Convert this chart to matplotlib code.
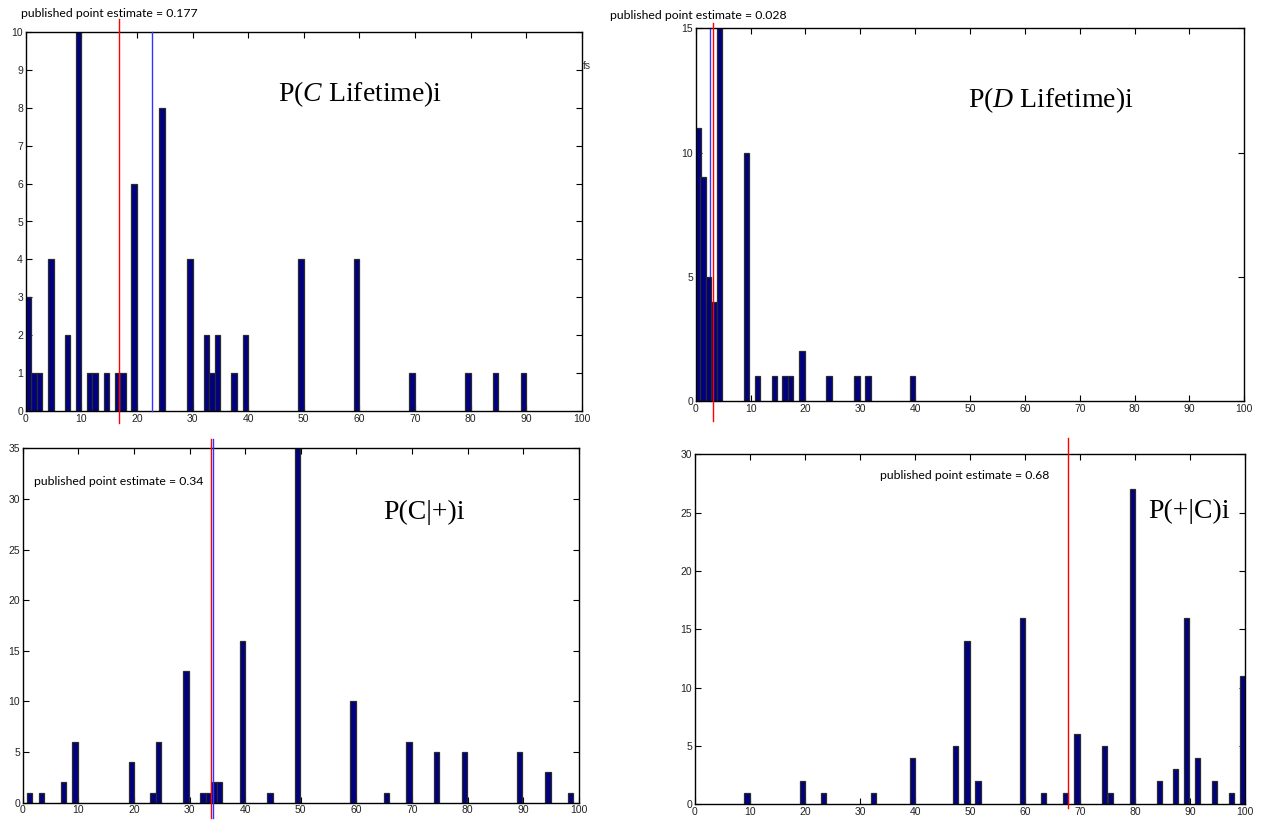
import numpy as np
import matplotlib.pyplot as plt

plt.rcParams['mathtext.fontset'] = 'custom'
plt.rcParams['mathtext.it'] = 'Liberation Serif:italic'
plt.rcParams['mathtext.rm'] = 'Liberation Serif'
plt.rcParams['font.family'] = ['Liberation Sans', 'DejaVu Sans']

# bin centres (percent) and counts
c_life_x = [0.5, 1.5, 2.5, 4.5, 7.5, 9.5, 11.5, 12.5, 14.5, 16.5, 17.5, 19.5, 24.5,
            29.5, 32.5, 33.5, 34.5, 37.5, 39.5, 49.5, 59.5, 69.5, 79.5, 84.5, 89.5]
c_life_n = [3, 1, 1, 4, 2, 10, 1, 1, 1, 1, 1, 6, 8, 4, 2, 1, 2, 1, 2, 4, 4, 1, 1, 1, 1]

d_life_x = [0.4, 1.3, 2.3, 3.3, 4.3, 9.3, 11.3, 14.35, 16.3, 17.3, 19.4, 24.3, 29.4, 31.4, 39.5]
d_life_n = [11, 9, 5, 4, 15, 10, 1, 1, 1, 1, 2, 1, 1, 1, 1]

c_pos_x = [1.25, 3.35, 7.35, 9.4, 19.55, 23.4, 24.4, 29.4, 32.4, 33.4, 34.4, 35.4, 39.5,
           44.45, 49.45, 59.45, 65.4, 69.45, 74.4, 79.45, 89.35, 94.45, 98.5]
c_pos_n = [1, 1, 2, 6, 4, 1, 6, 13, 1, 1, 2, 2, 16, 1, 35, 10, 1, 6, 5, 5, 5, 3, 1]

pos_c_x = [9.45, 19.5, 23.4, 32.45, 39.5, 47.4, 49.45, 51.45, 59.5, 63.4, 67.4, 69.45,
           74.45, 75.5, 79.5, 84.45, 87.4, 89.4, 91.4, 94.45, 97.5, 99.5]
pos_c_n = [1, 2, 1, 1, 4, 5, 14, 2, 16, 1, 1, 6, 5, 1, 27, 2, 3, 16, 4, 2, 1, 11]

# published estimates (red) and the other (blue) marker lines, in percent
red_lines = [16.7, 3.1, 33.9, 67.9]
blue_lines = [22.7, 2.6, 34.15, None]
est_labels = ['published point estimate = 0.177', 'published point estimate = 0.028',
              'published point estimate = 0.34', 'published point estimate = 0.68']
titles = [r'P($\mathit{C}$ Lifetime)i', r'P($\mathit{D}$ Lifetime)i', 'P(C|+)i', 'P(+|C)i']
ymax = [10, 15, 35, 30]
ystep = [1, 5, 5, 5]

W, H = 1269, 821
fig = plt.figure(figsize=(W / 100, H / 100), dpi=100)

# axes boxes in pixels: left, top, right, bottom
boxes = [(25.7, 32, 581.7, 411), (695.7, 28.3, 1244.3, 401),
         (22.7, 448.3, 578.7, 802.7), (695, 454.3, 1245, 804.3)]
# label / title placement (data units) and line extents (fraction of ymax)
lab_pos = [(-0.9, 10.5), (-15.6, 15.5), (2.0, 31.7), (33.6, 28.2)]
tit_pos = [(60.1, 8.36), (64.7, 12.1), (72.2, 28.7), (89.85, 25.1)]
red_span = [(-0.032, 1.034), (-0.053, 1.013), (-0.043, 1.026), (-0.01, 1.047)]
blue_span = [(0, 1), (0, 1), (-0.043, 1.026), None]

data = [(c_life_x, c_life_n), (d_life_x, d_life_n), (c_pos_x, c_pos_n), (pos_c_x, pos_c_n)]

navy = '#000080'
for i, (bx, (xs, ns)) in enumerate(zip(boxes, data)):
    l, t, r, b = bx
    ax = fig.add_axes([l / W, 1 - b / H, (r - l) / W, (b - t) / H])
    ax.bar(xs, ns, width=1.0, color=navy, edgecolor='#2a2a2a', linewidth=0.9, zorder=3)
    ax.set_xlim(0, 100)
    ax.set_ylim(0, ymax[i])
    ax.set_xticks(np.arange(0, 101, 10))
    ax.set_yticks(np.arange(0, ymax[i] + 1, ystep[i]))
    ax.tick_params(direction='in', top=True, right=True, length=4, width=0.8,
                   labelsize=7.5, pad=2, labelcolor='#222222')
    for s in ax.spines.values():
        s.set_linewidth(1.0)
        s.set_zorder(5)

    yr = ymax[i]
    y0, y1 = red_span[i]
    ax.plot([red_lines[i]] * 2, [y0 * yr, y1 * yr], color='red', lw=1.0,
            clip_on=False, zorder=6)
    if blue_lines[i] is not None:
        y0, y1 = blue_span[i]
        ax.plot([blue_lines[i]] * 2, [y0 * yr, y1 * yr], color='#3333ff', lw=1.0,
                clip_on=False, zorder=2 if i == 1 else 6)

    ax.text(lab_pos[i][0], lab_pos[i][1], est_labels[i], fontsize=8.8,
            family='Lato', va='center', ha='left', clip_on=False)
    ax.text(tit_pos[i][0], tit_pos[i][1], titles[i], fontsize=20,
            family='Liberation Serif', va='center', ha='center')
    if i == 0:
        ax.text(100.3, 9.1, 'fs', fontsize=7.5, color='#333333', va='center', ha='left')

fig.savefig('out.png', dpi=100)
